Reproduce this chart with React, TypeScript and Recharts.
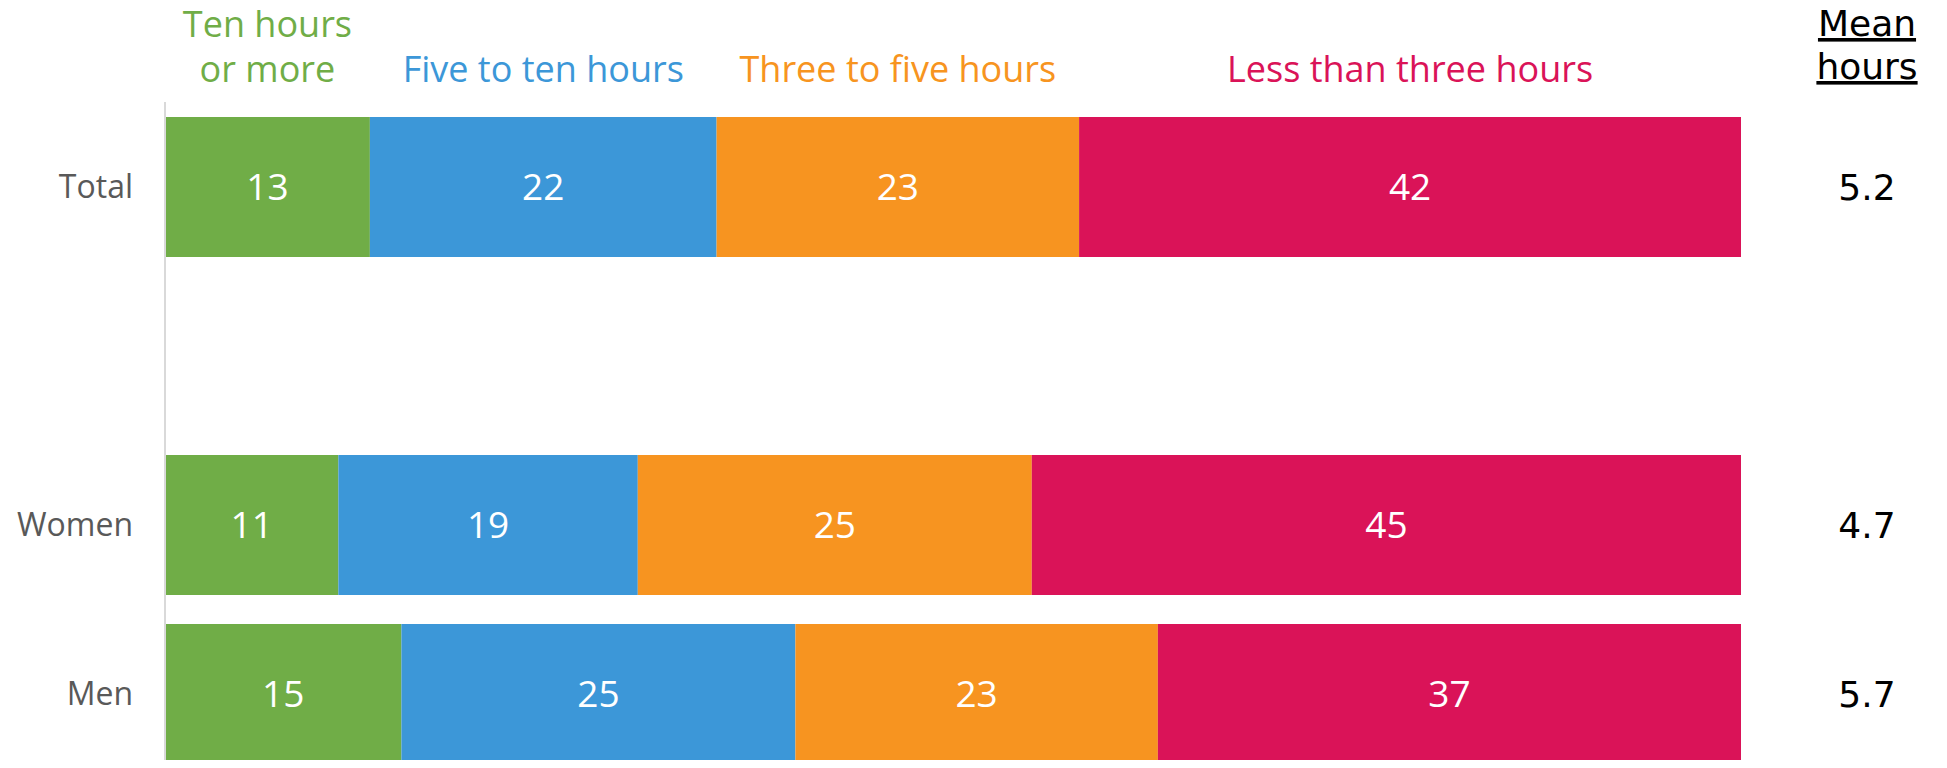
import React from 'react';
import { BarChart, Bar, XAxis, YAxis, LabelList } from 'recharts';

const categories = ['Total', '', 'Women', 'Men'];
const tenPlus = [13, null, 11, 15];
const fiveToTen = [22, null, 19, 25];
const threeToFive = [23, null, 25, 23];
const underThree = [42, null, 45, 37];
const meanHours = ['5.2', null, '4.7', '5.7'];

const seriesNames = [['Ten hours', 'or more'], ['Five to ten hours'], ['Three to five hours'], ['Less than three hours']];
const meanTitle = ['Mean', 'hours'];

const colors = ['#70AD47', '#3C97D8', '#F79420', '#DA1358'];
const FONT = '"Open Sans", "Noto Sans", sans-serif';
const MEAN_FONT = '"DejaVu Sans", sans-serif';

const data = categories.map((name, i) => ({
  name,
  tenPlus: tenPlus[i],
  fiveToTen: fiveToTen[i],
  threeToFive: threeToFive[i],
  underThree: underThree[i],
  mean: meanHours[i],
}));

const keys = ['tenPlus', 'fiveToTen', 'threeToFive', 'underThree'];

// pull the bar rectangle out of label props (v3 puts it in viewBox)
const box = (p: any) => {
  const vb = p.viewBox || {};
  return {
    x: Number(p.x ?? vb.x),
    y: Number(p.y ?? vb.y),
    w: Number(p.width ?? vb.width),
    h: Number(p.height ?? vb.height),
  };
};

const valueLabel = (p: any) => {
  if (p.value == null) return null;
  const { x, y, w, h } = box(p);
  return (
    <text x={x + w / 2} y={y + h / 2} dy={13} textAnchor="middle" fill="#fff" fontSize={37} fontFamily={FONT}>
      {p.value}
    </text>
  );
};

// series names sit above the Total bar, centred on each segment
const seriesLabel = (s: number) => (p: any) => {
  if (p.index !== 0 || p.value == null) return null;
  const { x, y, w } = box(p);
  const lines = seriesNames[s];
  return (
    <text textAnchor="middle" fill={colors[s]} fontSize={36} fontFamily={FONT}>
      {lines.map((ln, i) => (
        <tspan key={i} x={x + w / 2} y={y - 35 - (lines.length - 1 - i) * 45}>
          {ln}
        </tspan>
      ))}
    </text>
  );
};

const meanLabel = (p: any) => {
  if (p.value == null) return null;
  const { x, y, w, h } = box(p);
  const cx = x + w + 126;
  return (
    <g>
      {p.index === 0 &&
        meanTitle.map((t, i) => (
          <text key={t} x={cx} y={y - 81 + i * 43} textAnchor="middle" fill="#000" fontSize={36}
            fontFamily={MEAN_FONT} textDecoration="underline">
            {t}
          </text>
        ))}
      <text x={cx} y={y + h / 2} dy={13} textAnchor="middle" fill="#000" fontSize={36} fontFamily={MEAN_FONT}>
        {p.value}
      </text>
    </g>
  );
};

export default function App() {
  return (
    <div style={{ width: 1931, height: 760, overflow: 'hidden', marginBottom: -8 }}>
      <BarChart
        width={1931}
        height={780}
        data={data}
        layout="vertical"
        margin={{ top: 94, right: 198, bottom: 10, left: 0 }}
        barSize={140}
      >
        <XAxis type="number" domain={[0, 100]} hide />
        <YAxis
          type="category"
          dataKey="name"
          width={157}
          axisLine={{ stroke: '#D9D9D9', strokeWidth: 2 }}
          tickLine={false}
          tickSize={0}
          tickMargin={32}
          tick={{ fill: '#595959', fontSize: 32, fontFamily: FONT }}
        />
        {keys.map((k, s) => (
          <Bar key={k} dataKey={k} stackId="a" fill={colors[s]} isAnimationActive={false}>
            <LabelList dataKey={k} content={valueLabel} />
            <LabelList dataKey={k} content={seriesLabel(s)} />
            {s === 3 && <LabelList dataKey="mean" content={meanLabel} />}
          </Bar>
        ))}
      </BarChart>
    </div>
  );
}
